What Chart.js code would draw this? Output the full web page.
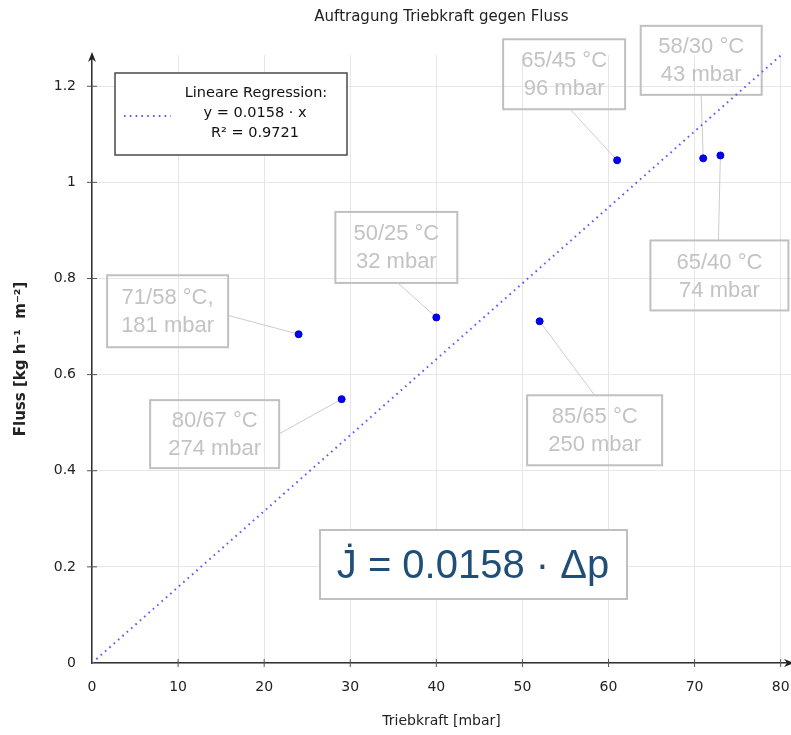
<!DOCTYPE html>
<html>

<head>
    <title>Auftragung Triebkraft gegen Fluss</title>
    <script src="https://cdn.jsdelivr.net/npm/chart.js@4.4.1/dist/chart.umd.min.js"></script>
    <style>
        body { margin: 0; background: #fff; }
    </style>
</head>

<body>
    <canvas id="myChart" width="791" height="735"></canvas>

    <script>
        // Messpunkte: Triebkraft [mbar] und Fluss [kg h^-1 m^-2]
        var triebkraft = [24, 29, 40, 52, 61, 71, 73];
        var fluss = [0.684, 0.549, 0.719, 0.711, 1.046, 1.050, 1.056];
        var temperaturen = ['71/58 °C,', '80/67 °C', '50/25 °C', '85/65 °C', '65/45 °C', '58/30 °C', '65/40 °C'];
        var druecke = ['181 mbar', '274 mbar', '32 mbar', '250 mbar', '96 mbar', '43 mbar', '74 mbar'];

        // Regressionsgerade durch den Ursprung
        var regX = [0, 80];
        var regY = [0, 1.264];
        var legendLines = ['Lineare Regression:', 'y = 0.0158 · x', 'R² = 0.9721'];
        var formel = 'J\u0307 = 0.0158 · Δp';

        var xTicks = [0, 10, 20, 30, 40, 50, 60, 70, 80];
        var yTicks = [0, 0.2, 0.4, 0.6, 0.8, 1, 1.2];

        // Lage der Beschriftungskaesten relativ zum Punkt (Pixel)
        var boxLayout = [
            { dx: -131, dy: -23, w: 121, h: 72, lx: 60, ly: 4 },
            { dx: -127, dy: 35, w: 129, h: 68, lx: 64, ly: 0 },
            { dx: -40, dy: -70, w: 122, h: 71, lx: 1, ly: 35 },
            { dx: 55, dy: 109, w: 135, h: 70, lx: 0, ly: -35 },
            { dx: -53, dy: -86, w: 122, h: 70, lx: 6, ly: 35 },
            { dx: -2, dy: -98, w: 121, h: 69, lx: 0, ly: 34 },
            { dx: -1, dy: 120, w: 138, h: 70, lx: -1, ly: -35 }
        ];

        var textFont = 'DejaVu Sans';
        var tickFont = { family: textFont, size: 14 };
        var dotColor = '#5a5aff';
        var dotDash = [1.6, 4.2];

        function noPadding() {
            return { left: 0, top: 0, right: 0, bottom: 0 };
        }

        var labelPlugin = {
            id: 'labelBoxes',
            beforeDatasetsDraw: function (chart) {
                var ctx = chart.ctx, xs = chart.scales.x, ys = chart.scales.y;
                ctx.save();
                // Teilstriche an den Achsen
                ctx.strokeStyle = '#555';
                ctx.lineWidth = 1;
                xTicks.forEach(function (v) {
                    if (v === 0) return;
                    var px = xs.getPixelForValue(v);
                    ctx.beginPath();
                    ctx.moveTo(px, ys.bottom - 4);
                    ctx.lineTo(px, ys.bottom + 4);
                    ctx.stroke();
                });
                yTicks.forEach(function (v) {
                    if (v === 0) return;
                    var py = ys.getPixelForValue(v);
                    ctx.beginPath();
                    ctx.moveTo(xs.left - 5, py);
                    ctx.lineTo(xs.left + 5, py);
                    ctx.stroke();
                });

                triebkraft.forEach(function (v, i) {
                    var px = xs.getPixelForValue(v), py = ys.getPixelForValue(fluss[i]);
                    var b = boxLayout[i];
                    var cx = px + b.dx, cy = py + b.dy;
                    ctx.strokeStyle = '#cccccc';
                    ctx.lineWidth = 1;
                    ctx.beginPath();
                    ctx.moveTo(cx + b.lx, cy + b.ly);
                    ctx.lineTo(px, py);
                    ctx.stroke();
                    ctx.strokeStyle = '#c0c0c0';
                    ctx.lineWidth = 2;
                    ctx.strokeRect(cx - b.w / 2, cy - b.h / 2, b.w, b.h);
                    ctx.fillStyle = '#c3c3c3';
                    ctx.font = '22px "Liberation Sans"';
                    ctx.textAlign = 'center';
                    ctx.textBaseline = 'middle';
                    ctx.fillText(temperaturen[i], cx, cy - 13);
                    ctx.fillText(druecke[i], cx, cy + 15);
                });
                ctx.restore();
            },
            afterDraw: function (chart) {
                var ctx = chart.ctx, area = chart.chartArea;
                ctx.save();
                // Pfeile an den Achsen
                ctx.fillStyle = '#222';
                ctx.beginPath();
                ctx.moveTo(area.left, area.top - 3);
                ctx.lineTo(area.left - 4, area.top + 7);
                ctx.lineTo(area.left, area.top + 4);
                ctx.lineTo(area.left + 4, area.top + 7);
                ctx.closePath();
                ctx.fill();
                ctx.beginPath();
                ctx.moveTo(area.right + 3, area.bottom);
                ctx.lineTo(area.right - 7, area.bottom - 4);
                ctx.lineTo(area.right - 4, area.bottom);
                ctx.lineTo(area.right - 7, area.bottom + 4);
                ctx.closePath();
                ctx.fill();

                // Legende
                ctx.fillStyle = '#fff';
                ctx.fillRect(115, 73, 232, 82);
                ctx.strokeStyle = '#4a4a4a';
                ctx.lineWidth = 1.5;
                ctx.strokeRect(115, 73, 232, 82);
                ctx.strokeStyle = dotColor;
                ctx.lineWidth = 2;
                ctx.setLineDash(dotDash);
                ctx.beginPath();
                ctx.moveTo(124, 116);
                ctx.lineTo(171, 116);
                ctx.stroke();
                ctx.setLineDash([]);
                ctx.fillStyle = '#111';
                ctx.font = '14.5px "' + textFont + '"';
                ctx.textAlign = 'center';
                ctx.textBaseline = 'middle';
                ctx.fillText(legendLines[0], 256, 93);
                ctx.fillText(legendLines[1], 255, 113);
                ctx.fillText(legendLines[2], 255, 133);

                // Formelkasten
                ctx.fillStyle = '#fff';
                ctx.fillRect(320, 530, 307, 69);
                ctx.strokeStyle = '#c0c0c0';
                ctx.lineWidth = 2;
                ctx.strokeRect(320, 530, 307, 69);
                ctx.fillStyle = '#1f4e79';
                ctx.font = '40px "Liberation Sans"';
                ctx.fillText(formel, 473, 567);
                ctx.restore();
            }
        };

        var ctx = document.getElementById('myChart');

        new Chart(ctx, {
            type: 'scatter',
            data: {
                datasets: [{
                    label: 'Messwerte',
                    data: triebkraft.map(function (v, i) { return { x: v, y: fluss[i] }; }),
                    backgroundColor: '#0000ff',
                    borderColor: '#0000cc',
                    borderWidth: 1,
                    pointRadius: 3.5
                }, {
                    label: 'Lineare Regression',
                    type: 'line',
                    data: regX.map(function (v, i) { return { x: v, y: regY[i] }; }),
                    borderColor: dotColor,
                    borderWidth: 2,
                    borderDash: dotDash,
                    pointRadius: 0,
                    fill: false
                }]
            },
            options: {
                responsive: false,
                devicePixelRatio: 1,
                animation: false,
                layout: { padding: 0, autoPadding: false },
                plugins: {
                    legend: { display: false },
                    tooltip: { enabled: false },
                    title: {
                        display: true,
                        fullSize: false,
                        text: 'Auftragung Triebkraft gegen Fluss',
                        color: '#222',
                        font: { family: textFont, size: 15, weight: 'normal' },
                        padding: { top: 8, bottom: 29 }
                    }
                },
                scales: {
                    x: {
                        type: 'linear',
                        min: 0,
                        max: 81.2,
                        afterBuildTicks: function (scale) {
                            scale.ticks = xTicks.map(function (v) { return { value: v }; });
                        },
                        afterFit: function (scale) {
                            scale.height = 72;
                            scale.paddingRight = 0;
                            scale.paddingLeft = 0;
                            scale.getPadding = noPadding;
                        },
                        grid: { color: '#e6e6e6', drawTicks: false },
                        border: { color: '#333', width: 1.5 },
                        ticks: { color: '#222', font: tickFont, padding: 16, maxRotation: 0 },
                        title: {
                            display: true,
                            text: 'Triebkraft [mbar]',
                            color: '#222',
                            font: { family: textFont, size: 14 },
                            padding: { top: 0, bottom: 5 }
                        }
                    },
                    y: {
                        min: 0,
                        max: 1.265,
                        afterBuildTicks: function (scale) {
                            scale.ticks = yTicks.map(function (v) { return { value: v }; });
                        },
                        afterFit: function (scale) {
                            scale.width = 92;
                            scale.paddingTop = 0;
                            scale.paddingBottom = 0;
                            scale.getPadding = noPadding;
                        },
                        grid: { color: '#e6e6e6', drawTicks: false },
                        border: { color: '#333', width: 1.5 },
                        ticks: {
                            color: '#222',
                            font: tickFont,
                            padding: 16,
                            callback: function (v) { return String(+v.toFixed(1)); }
                        },
                        title: {
                            display: true,
                            text: 'Fluss [kg h⁻¹  m⁻²]',
                            color: '#222',
                            font: { family: textFont, size: 15, weight: 'bold' },
                            padding: { top: 12, bottom: 0 }
                        }
                    }
                }
            },
            plugins: [labelPlugin]
        });
    </script>
</body>

</html>
